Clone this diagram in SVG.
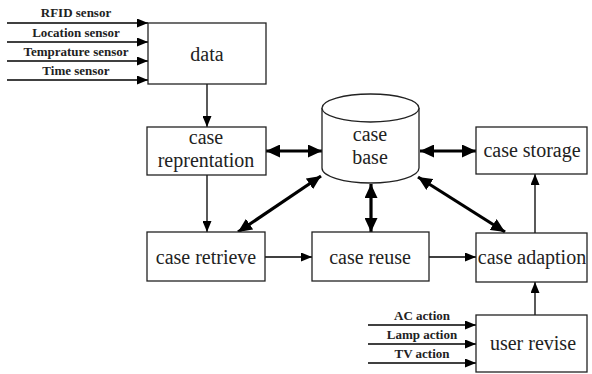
<svg xmlns="http://www.w3.org/2000/svg" width="592" height="374" viewBox="0 0 592 374">
<defs>
<marker id="ah" markerUnits="userSpaceOnUse" markerWidth="11" markerHeight="9" refX="11" refY="4.5" orient="auto-start-reverse"><path d="M0,0 L11,4.5 L0,9 z" fill="#000"/></marker>
<marker id="bh" markerUnits="userSpaceOnUse" markerWidth="14" markerHeight="13" refX="14" refY="6.5" orient="auto-start-reverse"><path d="M0,0 L14,6.5 L0,13 z" fill="#000"/></marker>
</defs>
<style>
.box{fill:#fff;stroke:#222;stroke-width:1.3}
.t{font-family:"Liberation Serif","Times New Roman",serif;font-size:20px;fill:#222;text-anchor:middle}
.s{font-family:"Liberation Serif","Times New Roman",serif;font-size:13px;font-weight:bold;fill:#222;text-anchor:middle}
.thin{stroke:#000;stroke-width:1.3;fill:none;marker-end:url(#ah)}
.thick{stroke:#000;stroke-width:3.2;fill:none;marker-start:url(#bh);marker-end:url(#bh)}
</style>
<g id="connectors">
<line class="thin" x1="7" y1="23" x2="148" y2="23"/>
<line class="thin" x1="7" y1="42" x2="148" y2="42"/>
<line class="thin" x1="7" y1="61" x2="148" y2="61"/>
<line class="thin" x1="7" y1="80" x2="148" y2="80"/>
<line class="thin" x1="207" y1="84" x2="207" y2="127"/>
<line class="thin" x1="207" y1="175" x2="207" y2="232"/>
<line class="thin" x1="265" y1="257" x2="312" y2="257"/>
<line class="thin" x1="429" y1="257" x2="476" y2="257"/>
<line class="thin" x1="535" y1="233" x2="535" y2="174"/>
<line class="thin" x1="535" y1="315" x2="535" y2="282"/>
<line class="thin" x1="368" y1="325" x2="476" y2="325"/>
<line class="thin" x1="368" y1="344" x2="476" y2="344"/>
<line class="thin" x1="368" y1="363" x2="476" y2="363"/>
<line class="thick" x1="266" y1="151" x2="322" y2="151"/>
<line class="thick" x1="420" y1="151" x2="476" y2="151"/>
<line class="thick" x1="238" y1="232" x2="321" y2="176"/>
<line class="thick" x1="371" y1="184" x2="371" y2="232"/>
<line class="thick" x1="418" y1="177" x2="505" y2="232"/>
</g>
<g id="sensor-labels">
<text class="s" x="76" y="17">RFID sensor</text>
<text class="s" x="76" y="37">Location sensor</text>
<text class="s" x="76" y="56">Temprature sensor</text>
<text class="s" x="76" y="75">Time sensor</text>
</g>
<g id="action-labels">
<text class="s" x="422" y="320">AC action</text>
<text class="s" x="422" y="339">Lamp action</text>
<text class="s" x="422" y="358">TV action</text>
</g>
<g id="data">
<rect class="box" x="148" y="23" width="118" height="61"/>
<text class="t" x="207" y="61">data</text>
</g>
<g id="case-reprentation">
<rect class="box" x="147" y="127" width="119" height="48"/>
<text class="t" x="206" y="144">case</text>
<text class="t" x="206" y="167">reprentation</text>
</g>
<g id="case-base">
<path class="box" d="M322,108 L322,168 A48.5,15 0 0 0 419,168 L419,108"/>
<ellipse class="box" cx="370.5" cy="108" rx="48.5" ry="14"/>
<text class="t" x="370" y="141">case</text>
<text class="t" x="370" y="164">base</text>
</g>
<g id="case-storage">
<rect class="box" x="476" y="127" width="111" height="47"/>
<text class="t" x="532" y="157">case storage</text>
</g>
<g id="case-retrieve">
<rect class="box" x="147" y="232" width="118" height="49"/>
<text class="t" x="206" y="264">case retrieve</text>
</g>
<g id="case-reuse">
<rect class="box" x="312" y="232" width="117" height="49"/>
<text class="t" x="370" y="264">case reuse</text>
</g>
<g id="case-adaption">
<rect class="box" x="476" y="233" width="111" height="49"/>
<text class="t" x="532" y="264">case adaption</text>
</g>
<g id="user-revise">
<rect class="box" x="476" y="315" width="111" height="57"/>
<text class="t" x="533" y="350">user revise</text>
</g>
</svg>
